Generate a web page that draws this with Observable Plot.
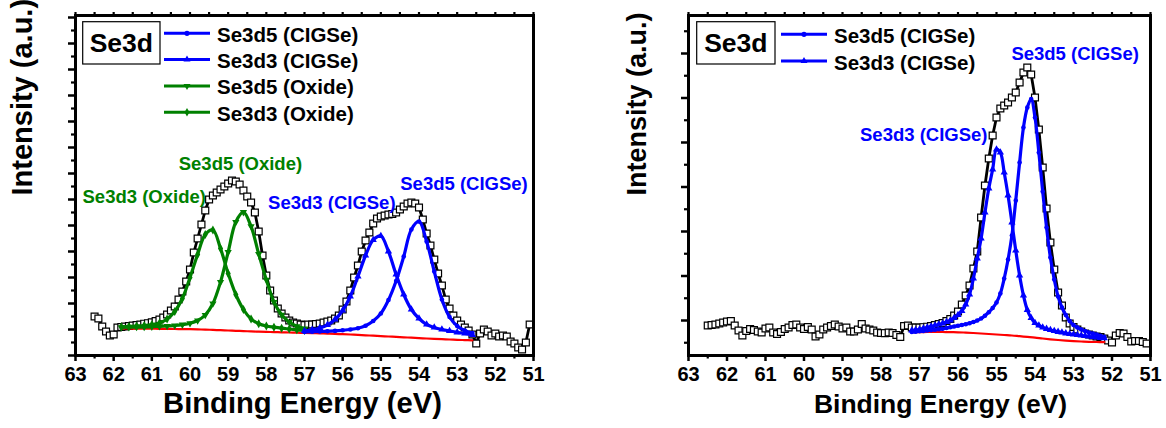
<!DOCTYPE html>
<html><head><meta charset="utf-8">
<script src="https://cdn.jsdelivr.net/npm/d3@7"></script>
<script src="https://cdn.jsdelivr.net/npm/@observablehq/plot@0.6"></script>
<style>
html,body{margin:0;padding:0;background:#fff;}
#wrap{display:flex;width:1166px;height:428px;overflow:hidden;}
.panel{position:relative;width:583px;height:428px;}
.panel svg.overlay{position:absolute;left:0;top:0;pointer-events:none;}
</style></head><body><div id="wrap"></div>
<script>
const FONT = "'Liberation Sans', Arial, Helvetica, sans-serif";
const BLUE = "#0000ff", GREEN = "#008000", RED = "#ff0000";

// ---- experimental data (both panels share the energy grid) ----
const dataEnergy = [62.5,62.4,62.3,62.2,62.1,62.0,61.9,61.8,61.7,61.6,
  61.5,61.4,61.3,61.2,61.1,61.0,60.9,60.8,60.7,60.6,
  60.5,60.4,60.3,60.2,60.1,60.0,59.9,59.8,59.7,59.6,
  59.5,59.4,59.3,59.2,59.1,59.0,58.9,58.8,58.7,58.6,
  58.5,58.4,58.3,58.2,58.1,58.0,57.9,57.8,57.7,57.6,
  57.5,57.4,57.3,57.2,57.1,57.0,56.9,56.8,56.7,56.6,
  56.5,56.4,56.3,56.2,56.1,56.0,55.9,55.8,55.7,55.6,
  55.5,55.4,55.3,55.2,55.1,55.0,54.9,54.8,54.7,54.6,
  54.5,54.4,54.3,54.2,54.1,54.0,53.9,53.8,53.7,53.6,
  53.5,53.4,53.3,53.2,53.1,53.0,52.9,52.8,52.7,52.6,
  52.5,52.4,52.3,52.2,52.1,52.0,51.9,51.8,51.7,51.6,
  51.5,51.4,51.3,51.2,51.1];
const leftIntensity = [39,37,29,24,20,21,28,28.5,29,29.5,
  30,30.5,31,31.8,32.3,33.2,34.5,36,38,41,
  45,49,56,64,74,86,103,117,131,145,
  156,160,163,166,169,172,175,174,171,165,
  159,153,143,124,100,80,65,55,47,42,
  38,35,33,32,31,30.5,31,31,31.5,32,
  33,34,35,37,40,46,54,65,78,90,
  104,115,123,132,137,139,140,141,141.5,143,
  146,149,152,153,152,148,136,122,110,96,
  82,70,56,47,40,35,31,28,25,21,
  12,22,26,24,20,22,19,20,19,14,
  12,8,6,13,31];
const rightIntensity = [30,30.5,31,32,33,34,34.5,30,25,20,
  24.5,26.5,25.5,24,23,27,28,23,21.5,23.5,
  26.5,28,30.5,31,28,26.5,28.5,26,19,21,
  26,28,29.5,31,29,27,28,24,24,26,
  31.5,27,26,25,23,22.5,22.3,23,22.5,20.5,
  18.5,29.5,30,28,28,28,28.3,28.8,29.5,30.5,
  31.5,32.5,34.5,36.5,40,44,51,60,70,87,
  104,138,170,197,220,238,247,250,253,258,
  263,273,283,288,281,258,226,188,147,113,
  86,63,50,38,32,28.5,26,24,22,21,
  20,19,18.5,17,15,13,20,22.5,22,18.5,
  14,14.5,14.5,13.5,12];

// ---- left panel fit components ----
const oxideEnergy = [61.8,61.6,61.4,61.2,61.0,60.8,60.6,60.4,60.2,60.0,59.8,59.6,59.4,59.2,59.0,58.8,58.6,58.4,58.2,58.0,57.8,57.6,57.4,57.2,57.0];
const oxideSe3d3 = [28.8,29.1,29.5,30.0,30.9,32.5,36.5,44.0,57.0,78.0,101.0,121.0,125.5,107.0,82.0,61.0,46.0,36.5,31.8,29.5,28.3,27.3,26.5,25.7,25.0];
const oxideSe3d5 = [28.2,28.3,28.4,28.5,28.8,29.1,29.5,30.0,30.8,32.2,35.0,40.5,52.0,73.5,103.5,133.5,143.3,129.1,101.5,75.7,53.5,40.7,33.5,29.2,26.8];
const cigseEnergyLeft = [57.0,56.8,56.6,56.4,56.2,56.0,55.8,55.6,55.4,55.2,55.0,54.8,54.6,54.4,54.2,54.0,53.8,53.6,53.4,53.2,53.0,52.8,52.6];
const cigseSe3d3Left = [24.5,25.8,27.5,30.5,36.0,45.0,59.0,79.0,100.0,115.5,119.5,104.0,81.0,61.0,46.0,37.0,31.0,28.0,26.0,24.5,23.2,22.0,20.5];
const cigseSe3d5Left = [23.5,23.8,24.0,24.3,24.6,25.2,26.0,27.3,29.8,34.5,42.0,55.5,74.5,99.0,126.0,134.0,114.0,84.0,56.0,38.5,29.5,25.0,22.5];
const baselineEnergyLeft = [61.8,61.6,61.4,61.2,61.0,60.8,60.6,60.4,60.2,60.0,59.8,59.6,59.4,59.2,59.0,58.8,58.6,58.4,58.2,58.0,57.8,57.6,57.4,57.2,57.0,
  56.8,56.6,56.4,56.2,56.0,55.8,55.6,55.4,55.2,55.0,54.8,54.6,54.4,54.2,54.0,53.8,53.6,53.4,53.2,53.0,52.8,52.6];
const baselineLeft = [27.0,27.0,26.9,26.8,26.8,26.7,26.6,26.5,26.4,26.3,26.1,25.9,25.6,25.3,25.0,24.7,24.4,24.1,23.8,23.6,23.4,23.2,23.0,22.8,22.6,
  22.4,22.1,21.9,21.6,21.3,21.0,20.6,20.2,19.8,19.4,19.0,18.6,18.2,17.8,17.4,17.0,16.6,16.3,16.0,15.7,15.4,15.2];

// ---- right panel fit components ----
const fitEnergyRight = [57.2,57.1,57.0,56.9,56.8,56.7,56.6,56.5,56.4,56.3,
  56.2,56.1,56.0,55.9,55.8,55.7,55.6,55.5,55.4,55.3,
  55.2,55.1,55.0,54.9,54.8,54.7,54.6,54.5,54.4,54.3,
  54.2,54.1,54.0,53.9,53.8,53.7,53.6,53.5,53.4,53.3,
  53.2,53.1,53.0,52.9,52.8,52.7,52.6,52.5,52.4,52.3,52.2];
const cigseSe3d5Right = [23.5,23.8,24.2,24.6,25.0,25.4,25.8,26.3,26.8,27.5,
  28.3,29.0,29.8,30.5,31.3,32.3,33.5,35.0,37.0,39.8,
  43.3,47.5,53.0,62.0,77.0,96.0,120.0,155.0,193.0,228.0,
  248.0,256.5,238.0,203.0,164.0,128.0,98.0,76.0,59.0,48.0,
  40.5,34.5,30.5,28.0,26.0,24.5,23.0,22.0,21.0,19.8,18.5];
const cigseSe3d3Right = [25.0,25.5,26.0,27.0,28.0,29.0,30.0,31.0,32.0,33.5,
  35.0,37.5,40.5,44.5,51.0,61.0,77.0,97.0,117.0,143.0,
  167.0,186.0,206.0,203.0,183.0,160.0,133.0,105.0,80.0,60.0,
  45.5,37.5,32.5,30.0,28.0,26.7,25.5,24.5,23.7,23.0,
  22.2,21.5,21.0,20.5,20.0,19.5,19.0,18.5,18.0,17.6,17.3];
const baselineEnergyRight = [57.2,57.0,56.8,56.6,56.4,56.2,56.0,55.8,55.6,55.4,55.2,55.0,54.8,54.6,54.4,54.2,54.0,53.8,53.6,53.4,53.2,53.0,52.8,52.6,52.4,52.2];
const baselineRight = [23.3,23.4,23.5,23.5,23.5,23.4,23.2,22.9,22.5,22.0,21.5,21.0,20.5,20.0,19.3,18.6,17.9,17.0,16.2,15.5,14.9,14.4,14.0,13.7,13.5,13.3];

// ---- ticks & labels ----
const xMajorTicks = [63,62,61,60,59,58,57,56,55,54,53,52,51];
const xMinorTicks = [62.5,61.5,60.5,59.5,58.5,57.5,56.5,55.5,54.5,53.5,52.5,51.5];
const yMajorLeft = [0,26,52,78,104,130,156,182,208,234,260,286,312,338];
const yMinorLeft = [13,39,65,91,117,143,169,195,221,247,273,299,325];
const yMajorRight = [35,79.5,124,168.5,213,257.5,302];
const yMinorRight = [12.75,57.25,101.75,146.25,190.75,235.25,279.75,324.25];
const names = {d5c: "Se3d5 (CIGSe)", d3c: "Se3d3 (CIGSe)", d5o: "Se3d5 (Oxide)", d3o: "Se3d3 (Oxide)"};
const panelTag = "Se3d";
const xTitle = "Binding Energy (eV)";
const yTitle = "Intensity (a.u.)";

const rows = (E, I) => E.map((e, i) => ({E: e, I: I[i]}));

const SYM = {
  d5c: {symbol: "circle", r: 2.3, rotate: 0},
  d3c: {symbol: "triangle", r: 2.7, rotate: 0},
  d5o: {symbol: "triangle", r: 2.7, rotate: 180},
  d3o: {symbol: "diamond", r: 2.7, rotate: 0}
};

function makePanel(cfg) {
  const data = rows(dataEnergy, cfg.intensity);
  const marks = [
    Plot.line(data, {x: "E", y: "I", stroke: "black", strokeWidth: 2.8}),
    Plot.dot(data, {x: "E", y: "I", symbol: "square", r: 3.9, fill: "white", stroke: "black", strokeWidth: 1.2}),
    Plot.line(rows(cfg.baseE, cfg.base), {x: "E", y: "I", stroke: RED, strokeWidth: 2.2, curve: "catmull-rom"})
  ];
  for (const c of cfg.curves) {
    const r = rows(c.E, c.I);
    const s = SYM[c.key];
    marks.push(Plot.line(r, {x: "E", y: "I", stroke: c.color, strokeWidth: 3.2, curve: "catmull-rom"}));
    marks.push(Plot.dot(r, {x: "E", y: "I", fill: c.color, symbol: s.symbol, r: s.r, rotate: s.rotate}));
    const peak = d3.greatest(r, d => d.I);
    marks.push(Plot.text([peak], {x: "E", y: "I", text: () => names[c.key], fill: c.color,
      fontSize: 18.5, fontWeight: "bold", textAnchor: c.anchor, dx: c.dx, dy: c.dy}));
  }
  marks.push(
    Plot.axisX({anchor: "bottom", ticks: xMajorTicks, tickSize: 6, tickPadding: 5, strokeWidth: 2.5,
      tickFormat: d => String(d), fontSize: 20, fontWeight: "bold", label: null}),
    Plot.axisX({anchor: "bottom", ticks: xMinorTicks, tickSize: 3.5, strokeWidth: 2.2, tickFormat: () => "", label: null}),
    Plot.axisX({anchor: "top", ticks: xMajorTicks.concat(xMinorTicks), tickSize: 4, strokeWidth: 2.2, tickFormat: () => "", label: null}),
    Plot.axisY({anchor: "left", ticks: cfg.yMajor, tickSize: 7, strokeWidth: 2.5, tickFormat: () => "", label: null}),
    Plot.axisY({anchor: "left", ticks: cfg.yMinor, tickSize: 4, strokeWidth: 2.2, tickFormat: () => "", label: null}),
    Plot.frame({stroke: "black", strokeWidth: 3}),
    Plot.text([xTitle], {frameAnchor: "bottom", dy: 57, dx: cfg.xTitleDx, fontSize: cfg.xTitleSize, fontWeight: "bold", fill: "black"}),
    Plot.text([yTitle], {frameAnchor: "left", rotate: -90, dx: cfg.yTitleDx, dy: 10, fontSize: cfg.yTitleSize, fontWeight: "bold", fill: "black"})
  );
  return Plot.plot({
    width: 583, height: 428,
    marginLeft: cfg.marginLeft, marginRight: cfg.marginRight, marginTop: 15, marginBottom: 73,
    x: {domain: [63, 51]},
    y: {domain: [0, 340]},
    style: {fontFamily: FONT, fontSize: "20px", fontWeight: "bold", background: "white", overflow: "visible", color: "black"},
    marks
  });
}

function drawLegend(div, L) {
  const svg = d3.select(div).append("svg").attr("class", "overlay")
    .attr("width", 583).attr("height", 428).style("font-family", FONT);
  svg.append("rect").attr("x", L.box[0]).attr("y", L.box[1]).attr("width", L.box[2]).attr("height", L.box[3])
    .attr("fill", "white").attr("stroke", "black").attr("stroke-width", 1.2);
  svg.append("text").attr("x", L.box[0] + L.box[2] / 2).attr("y", L.box[1] + L.box[3] / 2)
    .attr("text-anchor", "middle").attr("dominant-baseline", "central")
    .attr("font-size", 26.5).attr("font-weight", "bold").text(panelTag);
  L.entries.forEach((key, i) => {
    const y = L.y0 + i * L.step;
    const color = key.endsWith("c") ? BLUE : GREEN;
    svg.append("line").attr("x1", L.x1).attr("x2", L.x2).attr("y1", y).attr("y2", y)
      .attr("stroke", color).attr("stroke-width", 3);
    const s = SYM[key];
    const type = s.symbol === "circle" ? d3.symbolCircle : s.symbol === "triangle" ? d3.symbolTriangle : d3.symbolDiamond;
    svg.append("path").attr("d", d3.symbol(type, Math.PI * 2.6 * 2.6)())
      .attr("transform", `translate(${(L.x1 + L.x2) / 2},${y}) rotate(${s.rotate})`).attr("fill", color);
    svg.append("text").attr("x", L.tx).attr("y", y + 1).attr("dominant-baseline", "central")
      .attr("font-size", 20.5).attr("font-weight", "bold").attr("fill", "black").text(names[key]);
  });
}

const wrap = document.getElementById("wrap");

const leftDiv = document.createElement("div"); leftDiv.className = "panel";
leftDiv.appendChild(makePanel({
  intensity: leftIntensity, baseE: baselineEnergyLeft, base: baselineLeft,
  marginLeft: 75, marginRight: 50, yMajor: yMajorLeft, yMinor: yMinorLeft,
  xTitleDx: -2, xTitleSize: 29.2, yTitleDx: -53, yTitleSize: 29,
  curves: [
    {key: "d3o", E: oxideEnergy, I: oxideSe3d3, color: GREEN, anchor: "end", dx: -7, dy: -33},
    {key: "d5o", E: oxideEnergy, I: oxideSe3d5, color: GREEN, anchor: "middle", dx: -3, dy: -48},
    {key: "d3c", E: cigseEnergyLeft, I: cigseSe3d3Left, color: BLUE, anchor: "middle", dx: -49, dy: -33},
    {key: "d5c", E: cigseEnergyLeft, I: cigseSe3d5Left, color: BLUE, anchor: "middle", dx: 45, dy: -37}
  ]
}));
wrap.appendChild(leftDiv);
drawLegend(leftDiv, {box: [82.7, 21.7, 77.3, 42.3], x1: 164, x2: 210, tx: 217, y0: 33.3, step: 26.3,
  entries: ["d5c", "d3c", "d5o", "d3o"]});

const rightDiv = document.createElement("div"); rightDiv.className = "panel";
rightDiv.appendChild(makePanel({
  intensity: rightIntensity, baseE: baselineEnergyRight, base: baselineRight,
  marginLeft: 105, marginRight: 16, yMajor: yMajorRight, yMinor: yMinorRight,
  xTitleDx: 21, xTitleSize: 26.5, yTitleDx: -51, yTitleSize: 27,
  curves: [
    {key: "d3c", E: fitEnergyRight, I: cigseSe3d3Right, color: BLUE, anchor: "end", dx: -9, dy: -14},
    {key: "d5c", E: fitEnergyRight, I: cigseSe3d5Right, color: BLUE, anchor: "middle", dx: 44, dy: -45}
  ]
}));
wrap.appendChild(rightDiv);
drawLegend(rightDiv, {box: [113.7, 21.7, 78.3, 42.3], x1: 198, x2: 244, tx: 251, y0: 34.3, step: 26.7,
  entries: ["d5c", "d3c"]});
</script></body></html>
